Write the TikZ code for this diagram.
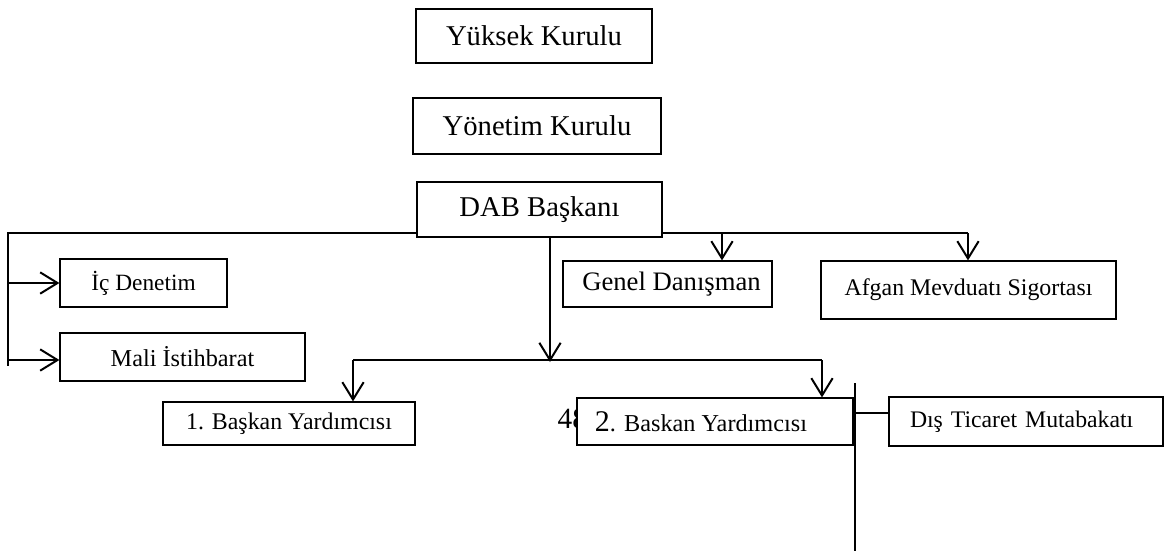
\documentclass[tikz,border=0pt]{standalone}
\usepackage{fontspec}
\setmainfont{Liberation Serif}
\usetikzlibrary{arrows.meta}
\newcommand\fs[1]{\fontsize{#1}{#1}\selectfont}
\newcommand\bx[7]{\node[box,minimum width={(#4-#2)*0.75pt},minimum height={(#5-#3)*0.75pt},font=\fs{#6}] (#1) at ({(#2+#4)/2},{(#3+#5)/2}) {#7};}
\begin{document}
\begin{tikzpicture}[x=0.75pt,y=-0.75pt,
  box/.style={draw,line width=0.9pt,fill=white,inner sep=0pt,align=center},
  ln/.style={line width=1.1pt},
  arr/.style={line width=1.5pt,-{Straight Barb[length=13pt,width=16pt,line width=1.5pt]}}]
\useasboundingbox (0,0) rectangle (1165,551);
\bx{yk}{416}{9}{652}{63}{21.5}{Yüksek Kurulu}
\bx{yn}{413}{98}{661}{154}{21.5}{Yönetim Kurulu}
\bx{dab}{417}{182}{662}{237}{21.5}{DAB Başkanı}
\bx{ic}{60}{259}{227}{307}{17.5}{İç Denetim}
\bx{mali}{60}{333}{305}{381}{18.2}{Mali İstihbarat}
\bx{genel}{563}{261}{772}{307}{20}{\hspace*{6pt}Genel Danışman}
\bx{afgan}{821}{261}{1116}{319}{17.9}{Afgan Mevduatı Sigortası}
\bx{by1}{163}{402}{415}{445}{17.9}{1. Başkan Yardımcısı}
\node[anchor=base west,font=\fs{22}] (pg) at (553,428) {48};
\bx{by2}{577}{398}{853}{445}{18.2}{{\fs{22.5}2}. Baskan Yardımcısı\hspace*{21pt}}
\node[box,minimum width={274*0.75pt},minimum height={49*0.75pt},inner xsep=15.75pt,text width=174pt,align=left,font=\fs{17.8}] (dis) at (1026,421.5) {Dış Ticaret Mutabakatı};
% left branch
\coordinate (L) at (8,233);
\coordinate (Lb) at (8,366);
\draw[ln] (L -| dab.west) -- (L) -- (Lb);
\draw[arr] (ic.west -| L) -- (ic.west);
\draw[arr] ([yshift=-2.25pt]mali.west -| L) -- ([yshift=-2.25pt]mali.west);
% right branch
\coordinate (R) at (968,233);
\coordinate (G) at (722,233);
\draw[ln] (R -| dab.east) -- (R);
\draw[arr] (R) -- (R |- afgan.north);
\draw[arr] (G) -- (G |- genel.north);
% down branch
\coordinate (F) at (550,362);
\coordinate (F1) at (353,360);
\coordinate (F2) at (822,360);
\draw[arr] (F |- dab.south) -- (F);
\draw[ln] (F1) -- (F2);
\draw[arr] (F1) -- (F1 |- by1.north);
\draw[arr] (F2) -- (F2 |- by2.north);
% far right
\coordinate (V1) at (855,383);
\coordinate (V2) at (855,551);
\coordinate (H) at (855,413);
\draw[ln] (V1) -- (V2);
\draw[ln] (H) -- (H -| dis.west);
\end{tikzpicture}
\end{document}
